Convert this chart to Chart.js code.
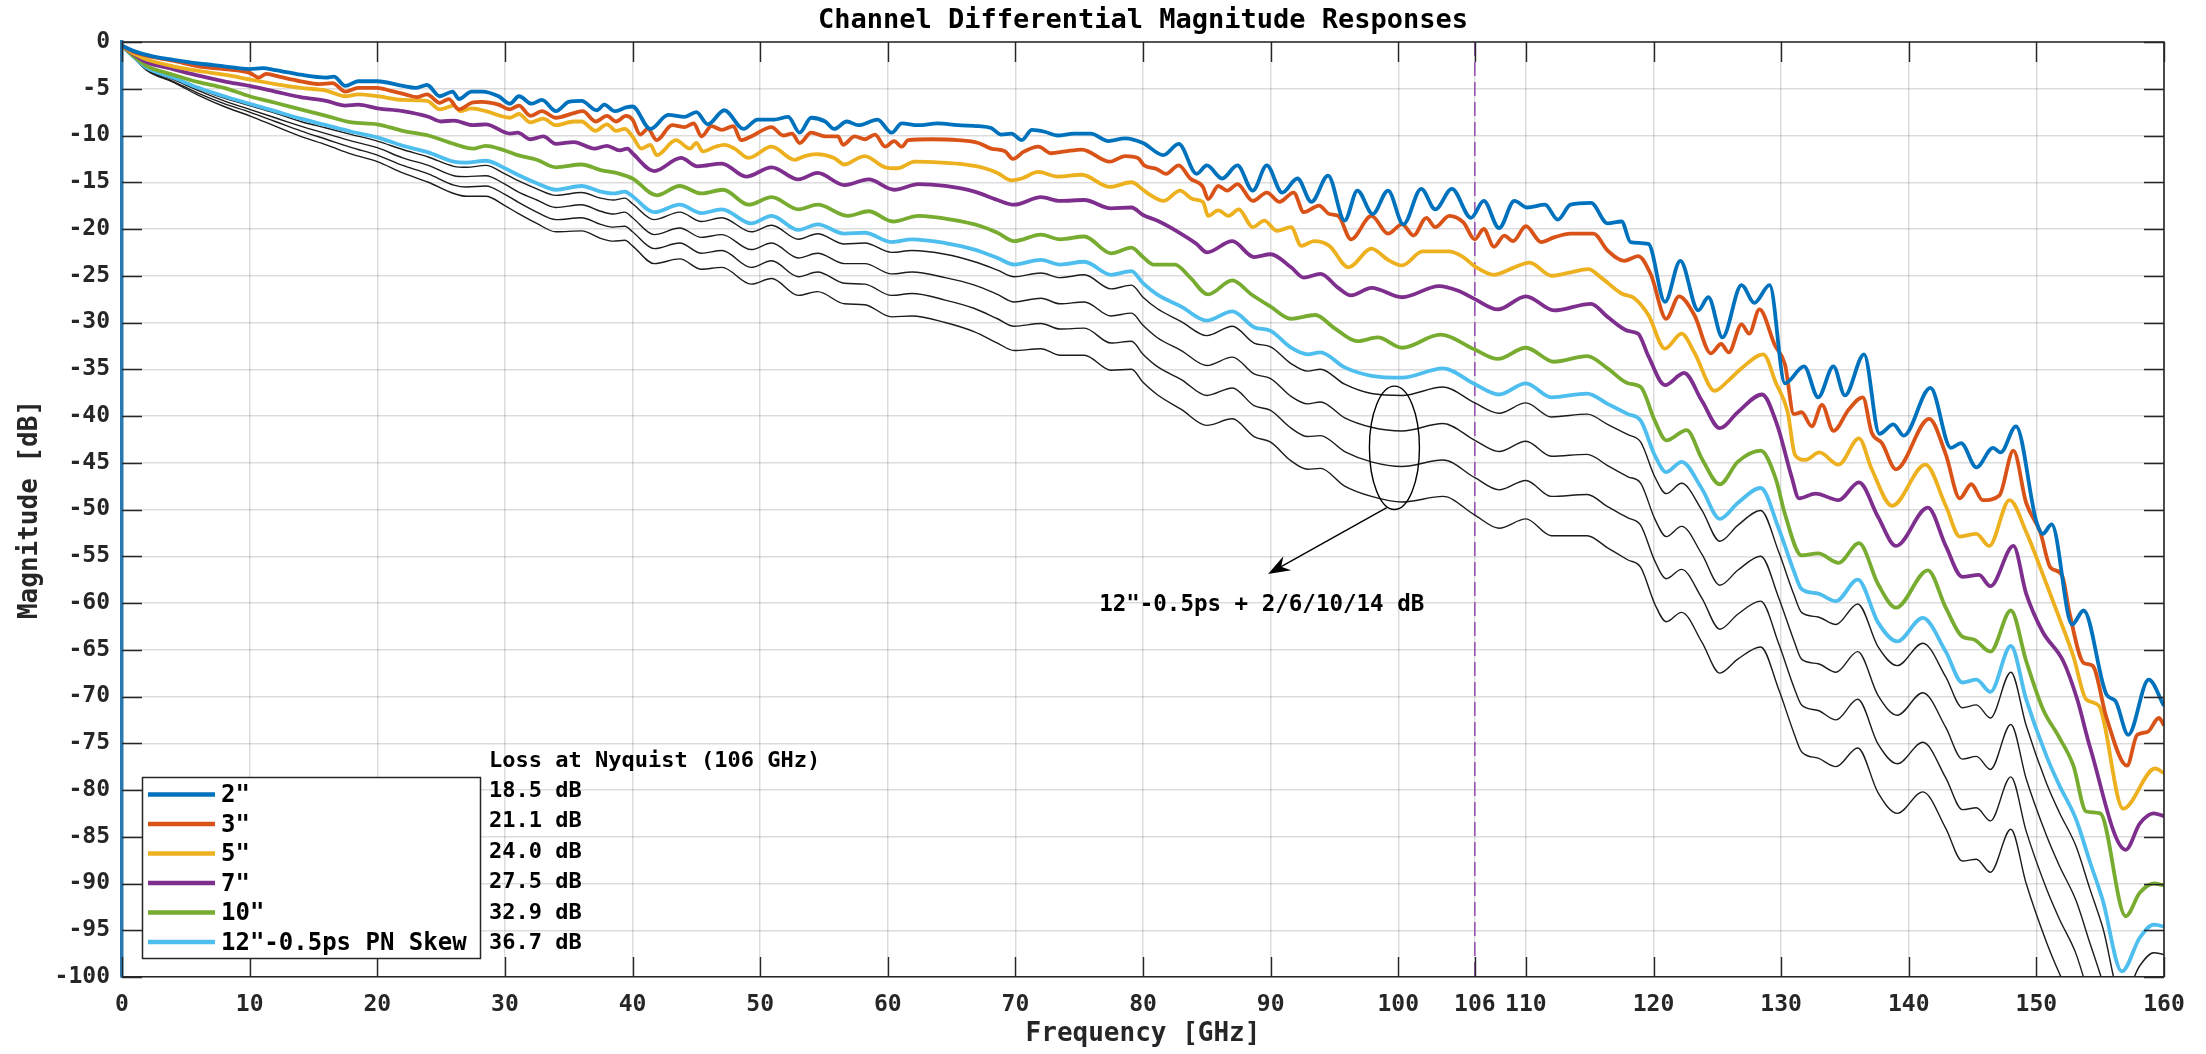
<!DOCTYPE html>
<html>
<head>
<meta charset="utf-8">
<script src="https://cdn.jsdelivr.net/npm/chart.js@4.4.1/dist/chart.umd.min.js"></script>
<style>
html,body{margin:0;padding:0;background:#ffffff;}
#wrap{width:2206px;height:1054px;position:relative;}
</style>
</head>
<body>
<div id="wrap"><canvas id="c" width="2206" height="1054"></canvas></div>
<script>
// ---------------- chart texts ----------------
const chartTitle = 'Channel Differential Magnitude Responses';
const xAxisLabel = 'Frequency [GHz]';
const yAxisLabel = 'Magnitude [dB]';
const xTickValues = [0,10,20,30,40,50,60,70,80,90,100,106,110,120,130,140,150,160];
const yTickValues = [-100,-95,-90,-85,-80,-75,-70,-65,-60,-55,-50,-45,-40,-35,-30,-25,-20,-15,-10,-5,0];
const seriesNames = ['2"', '3"', '5"', '7"', '10"', '12"-0.5ps PN Skew'];
const nyquistHeader = 'Loss at Nyquist (106 GHz)';
const nyquistLosses = ['18.5 dB', '21.1 dB', '24.0 dB', '27.5 dB', '32.9 dB', '36.7 dB'];
const nyquistFreq = 106;
const skewNote = '12"-0.5ps + 2/6/10/14 dB';

// ---------------- series: [frequency GHz, magnitude dB] ----------------
const s2in = [[0,-0.4],[1,-1.0],[2,-1.4],[3,-1.7],[4,-1.9],[6,-2.3],[8,-2.6],[10,-2.9],[11,-2.8],[12,-3.0],[14,-3.5],[16,-3.8],[16.6,-3.7],[17.5,-4.7],[18.5,-4.2],[20,-4.2],[22,-4.7],[23,-4.9],[23.9,-4.6],[24.9,-5.8],[25.9,-5.3],[26.4,-6.1],[27.4,-5.3],[28.2,-5.3],[29.5,-5.8],[30.4,-6.6],[31.1,-5.8],[32.1,-6.6],[32.9,-6.2],[34,-7.4],[35,-6.4],[36,-6.3],[37.2,-7.3],[37.8,-6.7],[38.6,-7.4],[39.5,-7.0],[40,-6.9],[41.4,-9.3],[42.8,-7.8],[44.1,-8.0],[45,-7.5],[45.9,-8.8],[47.2,-7.3],[48.7,-9.3],[49.8,-8.3],[51.1,-8.3],[52.2,-8.0],[53.1,-9.7],[54,-8.1],[55.1,-8.5],[55.8,-9.3],[56.8,-8.5],[57.7,-8.9],[59.2,-8.3],[60.3,-9.7],[61.1,-8.7],[62.4,-8.9],[63.9,-8.7],[65.5,-8.9],[67.1,-9.0],[68.1,-9.2],[68.9,-9.9],[69.7,-9.8],[70.5,-10.5],[71.3,-9.4],[72.3,-9.6],[73.3,-10.0],[74.6,-9.8],[75.9,-9.8],[77.3,-10.6],[78.6,-10.3],[80,-10.8],[81.6,-12.1],[82.8,-10.9],[84.2,-14.1],[85,-13.2],[86.2,-14.6],[87.4,-13.2],[88.6,-15.9],[89.7,-13.2],[90.9,-16.1],[92.1,-14.6],[93.2,-17.1],[94.5,-14.3],[95.8,-19.1],[96.8,-15.9],[98,-18.4],[99.2,-15.9],[100.4,-19.5],[101.8,-15.7],[102.9,-17.9],[104.2,-15.7],[105.7,-18.8],[106.7,-17.0],[107.9,-19.9],[109.1,-17.0],[110.1,-17.7],[111.5,-17.4],[112.5,-19.0],[113.5,-17.4],[115.1,-17.2],[116.4,-19.4],[117.5,-19.2],[118.2,-21.4],[119.6,-21.6],[120.9,-27.8],[122.1,-23.4],[123.5,-28.7],[124.3,-27.3],[125.4,-31.6],[126.9,-26.0],[127.9,-27.9],[129.1,-26.0],[130.3,-36.5],[131.8,-34.7],[132.9,-38.0],[134.1,-34.7],[135,-37.8],[136.5,-33.4],[137.7,-41.9],[138.8,-40.9],[139.6,-42.1],[141.7,-37.0],[143.3,-43.4],[144.1,-42.9],[145.3,-45.5],[146.6,-43.4],[147.2,-43.9],[148.4,-41.1],[150,-51.3],[150.5,-52.6],[151.2,-51.6],[152.8,-62.3],[153.7,-60.8],[155.5,-69.8],[156.2,-70.5],[157.2,-74.1],[158.8,-68.2],[160,-71.0]];

const s3in = [[0,-0.4],[1,-1.1],[2,-1.5],[4,-2.0],[6,-2.6],[8,-2.9],[10,-3.3],[10.7,-3.8],[11.3,-3.4],[12,-3.6],[14,-4.2],[15.5,-4.5],[16.5,-4.4],[17.5,-5.3],[18.5,-4.9],[20,-4.9],[21,-5.2],[22.2,-5.6],[23.1,-5.9],[23.9,-5.6],[24.9,-6.5],[25.6,-6.1],[26.4,-7.2],[27.4,-6.5],[28.2,-6.4],[29.5,-6.7],[30.4,-7.2],[31.1,-6.8],[32,-7.9],[32.9,-7.4],[34,-8.1],[35.4,-7.6],[36.1,-7.4],[37.1,-8.5],[38,-7.9],[38.7,-8.5],[39.5,-7.9],[40,-8.3],[40.6,-9.9],[41.2,-9.3],[41.9,-10.5],[43.1,-8.9],[44.1,-9.1],[44.8,-8.7],[45.4,-10.1],[46.2,-9.0],[47,-9.4],[47.9,-9.0],[48.5,-10.5],[49.3,-10.1],[50.9,-9.1],[51.8,-10.0],[52.5,-9.8],[53.1,-10.8],[54,-9.7],[55.1,-10.1],[56.1,-10.1],[56.5,-11.0],[57.4,-10.1],[58.2,-10.4],[59,-9.9],[59.8,-11.2],[60.5,-10.6],[61.1,-11.2],[61.6,-10.5],[63.4,-10.4],[65.5,-10.5],[67.1,-10.8],[68.1,-11.4],[69.2,-11.7],[69.8,-12.5],[70.7,-11.7],[71.8,-11.2],[72.8,-11.9],[73.9,-11.7],[75.2,-11.5],[77.4,-12.8],[78.6,-12.2],[79.6,-12.4],[80.1,-13.2],[81.1,-13.6],[81.8,-14.1],[82.8,-13.2],[83.7,-14.6],[84.7,-15.5],[85.1,-16.8],[85.9,-15.4],[86.6,-15.9],[87.4,-15.2],[88.6,-17.0],[89.7,-16.1],[90.7,-17.1],[91.8,-16.1],[92.6,-18.2],[93.8,-17.5],[94.6,-18.4],[95.3,-18.6],[96.3,-21.1],[97.9,-18.6],[99.2,-20.5],[100.3,-19.5],[101.2,-20.7],[102.2,-18.8],[102.9,-19.8],[104,-18.6],[105.1,-19.3],[106,-21.1],[106.7,-20.0],[107.5,-21.9],[108.3,-20.7],[109,-21.3],[110,-19.7],[111.2,-21.4],[112.2,-20.9],[113.5,-20.5],[115.3,-20.5],[116.4,-22.3],[117.7,-23.4],[118.8,-22.9],[119.8,-24.9],[121,-29.6],[122,-27.2],[123.2,-29.2],[124.5,-33.3],[125.3,-32.3],[125.9,-33.2],[126.9,-30.2],[127.5,-31.2],[128.3,-28.6],[129.5,-32.4],[130.3,-34.5],[131,-39.8],[131.6,-39.6],[132.4,-41.1],[133.2,-38.8],[134.1,-41.6],[135.3,-39.3],[136.4,-38.0],[137.1,-41.8],[137.9,-42.9],[139,-45.7],[141.6,-40.3],[142.9,-44.1],[144,-48.8],[144.9,-47.3],[145.8,-49.0],[147.1,-48.5],[148.2,-43.7],[149.2,-49.3],[150.3,-52.4],[151.1,-56.2],[152,-57.0],[152.6,-61.1],[153.7,-66.4],[154.4,-66.7],[155.5,-72.3],[157.1,-77.4],[157.9,-74.1],[158.7,-73.8],[159.6,-72.3],[160,-73.1]];

const s5in = [[0,-0.4],[1,-1.3],[2,-1.9],[4,-2.6],[6,-3.1],[8,-3.5],[10,-4.0],[12,-4.5],[14,-4.9],[16,-5.2],[17.5,-5.8],[18.5,-5.6],[20,-5.8],[22,-6.2],[23.9,-6.3],[24.9,-7.2],[26,-6.8],[26.5,-7.4],[27.4,-7.1],[28.5,-7.4],[30.4,-8.1],[31.1,-7.7],[32,-8.6],[33,-8.2],[34,-8.9],[35.4,-8.5],[36,-8.5],[37.1,-9.5],[38,-8.8],[38.7,-9.5],[39.4,-9.3],[40,-10.1],[40.7,-11.4],[41.4,-11.0],[41.9,-12.1],[43.4,-10.5],[44.5,-11.4],[45,-10.8],[45.5,-11.7],[46.5,-11.2],[47.2,-11.0],[48,-11.4],[49.1,-12.4],[50.9,-11.2],[52.7,-12.6],[53.5,-12.2],[54.4,-12.0],[55.8,-12.4],[56.6,-13.1],[57.7,-12.4],[58.2,-12.2],[59.8,-13.4],[60.8,-13.5],[62.1,-12.8],[64.2,-12.9],[66,-13.1],[67.6,-13.5],[68.6,-14.0],[69.7,-14.8],[70.5,-14.6],[71.8,-13.9],[73.3,-14.4],[75.2,-14.2],[77.4,-15.5],[79.1,-15.0],[80,-15.8],[80.5,-16.3],[81.6,-17.0],[82.9,-15.9],[83.9,-16.8],[84.7,-17.1],[85.1,-18.6],[85.9,-18.0],[86.7,-18.6],[87.5,-17.9],[88.6,-19.8],[89.5,-19.1],[90.5,-20.2],[91.6,-19.8],[92.4,-21.8],[93.4,-21.3],[94.6,-21.8],[96.1,-24.1],[97.9,-22.1],[99.2,-23.3],[100.3,-23.9],[101.9,-22.4],[103.9,-22.4],[105.1,-23.0],[106,-24.0],[107.5,-24.9],[109.1,-24.1],[110.3,-23.6],[112,-25.0],[113.3,-24.7],[114.9,-24.3],[115.9,-25.2],[117.5,-26.9],[118.5,-27.4],[119.6,-29.2],[120.9,-32.8],[122.2,-31.2],[123.2,-33.2],[124.8,-37.3],[125.8,-36.3],[126.9,-34.9],[128.6,-33.4],[129.6,-36.5],[130.5,-39.5],[131.1,-44.2],[131.9,-44.7],[133,-43.9],[134.5,-45.2],[136.1,-42.4],[137.1,-45.7],[138.7,-49.6],[141.3,-45.2],[142.9,-49.6],[144,-52.9],[145.3,-52.6],[146.3,-53.9],[147.9,-49.0],[149.2,-52.4],[150.8,-58.0],[151.8,-61.6],[152.9,-65.7],[153.9,-70.3],[154.9,-71.0],[156.8,-82.0],[159.3,-77.7],[160,-78.2]];

const s7in = [[0,-0.4],[1,-1.4],[2,-2.2],[4,-2.9],[6,-3.6],[8,-4.2],[10,-4.7],[12,-5.3],[14,-5.9],[16,-6.3],[17.5,-6.8],[18.5,-6.7],[20,-7.1],[22,-7.4],[24,-8.0],[25,-8.5],[26,-8.4],[27.5,-8.9],[28.5,-8.8],[30.4,-9.8],[31,-9.7],[32,-10.4],[33,-10.1],[34,-10.9],[35.4,-10.7],[37,-11.4],[38,-11.1],[39,-11.6],[39.6,-11.4],[40,-11.9],[41.7,-13.8],[43.8,-12.4],[45.1,-13.3],[47,-13.0],[48.9,-14.4],[50.9,-13.4],[53,-14.7],[54.5,-14.0],[56.6,-15.3],[58.5,-14.7],[60.5,-15.8],[62.4,-15.2],[64.5,-15.4],[66.8,-16.0],[68.6,-16.9],[69.9,-17.4],[72,-16.6],[73.5,-17.0],[75.4,-16.9],[77.5,-17.8],[79.1,-17.7],[80,-18.5],[81.1,-19.1],[82.6,-20.2],[84.2,-21.6],[85,-22.5],[87,-21.3],[88.7,-23.0],[90,-22.7],[91.6,-24.1],[92.6,-25.2],[93.9,-24.8],[95.3,-26.3],[96.3,-27.1],[97.9,-26.3],[100.3,-27.3],[103.2,-26.1],[104.7,-26.6],[106,-27.5],[107.8,-28.6],[110,-27.2],[112.2,-28.7],[115.1,-28.0],[116.4,-29.4],[118,-30.9],[118.8,-31.2],[119.6,-33.6],[120.9,-36.7],[122.4,-35.4],[123.8,-38.4],[125.2,-41.3],[126.6,-39.6],[128.5,-37.7],[129.7,-41.0],[130.8,-46.4],[131.4,-48.8],[132.7,-48.3],[134.5,-49.0],[136.1,-47.1],[137.6,-50.8],[139,-53.9],[141.5,-49.8],[142.9,-53.9],[144.2,-57.2],[145.5,-57.0],[146.4,-58.2],[148.2,-53.9],[149.2,-59.0],[150.5,-63.1],[152.1,-66.2],[153.2,-70.3],[154.2,-75.4],[157,-86.4],[158.1,-83.6],[159.2,-82.5],[160,-82.8]];

const s10in = [[0,-0.4],[1,-1.6],[2,-2.6],[4,-3.5],[6,-4.3],[8,-4.9],[10,-5.8],[12,-6.5],[14,-7.2],[16,-7.9],[18,-8.6],[20,-8.8],[22,-9.5],[24,-10.0],[26,-10.9],[27.5,-11.4],[28.5,-11.1],[30,-11.6],[31,-12.1],[32.5,-12.6],[34,-13.4],[36,-13.1],[37.5,-13.7],[39,-14.1],[40,-14.6],[41.9,-16.4],[43.7,-15.4],[45.4,-16.2],[47.1,-15.8],[49.1,-17.4],[50.9,-16.6],[53,-17.9],[54.5,-17.4],[56.9,-18.6],[58.5,-18.1],[60.4,-19.2],[62.4,-18.6],[65,-19.0],[67.3,-19.7],[68.6,-20.4],[69.9,-21.3],[72,-20.6],[73.5,-21.1],[75.4,-20.8],[77.5,-22.6],[79.1,-22.0],[80,-23.0],[80.8,-23.8],[82.5,-23.8],[83.7,-25.2],[85.1,-27.0],[87,-25.5],[88.5,-27.0],[90,-28.3],[91.6,-29.6],[93.5,-29.2],[95,-30.6],[96.8,-32.0],[98.4,-31.6],[100.3,-32.7],[103.3,-31.3],[106,-32.9],[107.8,-33.9],[110,-32.7],[112.2,-34.2],[114.8,-33.6],[116.4,-34.9],[118,-36.5],[119,-36.9],[120.1,-40.5],[121,-42.6],[122.6,-41.5],[123.8,-44.6],[125.2,-47.3],[126.6,-44.9],[128.4,-43.7],[129.6,-46.8],[130.3,-50.5],[131.6,-54.9],[132.9,-54.7],[134.5,-55.7],[136.1,-53.6],[137.6,-58.0],[139,-60.5],[141.5,-56.5],[142.9,-60.5],[144.2,-63.6],[145.1,-63.9],[146.4,-65.2],[148,-60.8],[149.2,-66.2],[150.5,-71.3],[151.8,-74.4],[152.9,-77.4],[153.9,-82.3],[155,-82.5],[157,-93.5],[158.1,-91.0],[159.2,-90.0],[160,-90.2]];

const s12in = [[0,-0.4],[1,-1.7],[2,-2.8],[4,-3.8],[6,-4.9],[8,-5.8],[10,-6.6],[12,-7.4],[14,-8.2],[16,-8.9],[18,-9.6],[20,-10.2],[22,-11.1],[24,-11.8],[26,-12.8],[27,-12.9],[28.5,-12.7],[30,-13.5],[31,-14.2],[32.5,-15.1],[34,-15.8],[36,-15.4],[37.5,-16.0],[38.5,-16.2],[39.4,-16.0],[40,-16.5],[41.7,-18.2],[43.7,-17.4],[45.4,-18.3],[47,-17.9],[49.3,-19.4],[50.9,-18.6],[53,-20.1],[54.5,-19.5],[56.6,-20.5],[58.2,-20.4],[60.3,-21.4],[61.9,-21.1],[64.5,-21.5],[66.8,-22.2],[68.6,-23.1],[69.9,-23.8],[72,-23.3],[73.5,-23.8],[75.4,-23.5],[77.5,-24.9],[79.1,-24.5],[80,-25.8],[81.1,-27.0],[83,-28.3],[85,-29.8],[87,-28.8],[88.7,-30.5],[90,-30.9],[91.6,-32.7],[92.9,-33.4],[93.9,-33.2],[95.8,-34.8],[97.9,-35.7],[100.3,-35.9],[103.5,-34.9],[106,-36.6],[107.9,-37.7],[110,-36.5],[112,-38.0],[114.8,-37.6],[116.4,-38.7],[118,-39.8],[119,-40.5],[120.1,-44.2],[121,-46.0],[122.2,-44.9],[123.8,-47.8],[125.2,-51.0],[126.6,-49.3],[128.4,-47.7],[129.8,-52.0],[131,-56.6],[131.6,-58.5],[132.9,-59.0],[134.3,-59.8],[136,-57.5],[137.6,-62.1],[139.1,-64.1],[141.1,-61.6],[142.9,-65.2],[144.2,-68.5],[145.3,-68.2],[146.4,-69.5],[148,-64.6],[149.2,-70.3],[150.8,-76.4],[151.8,-79.5],[153.1,-83.1],[154.2,-87.7],[155.2,-91.8],[156.7,-99.4],[158.1,-95.8],[159.2,-94.4],[160,-94.6]];

const s12inPlus2 = [[0,-0.4],[1,-1.7],[2,-2.8],[4,-3.9],[6,-5.0],[8,-6.0],[10,-6.8],[12,-7.6],[14,-8.5],[16,-9.2],[18,-9.9],[20,-10.6],[22,-11.5],[24,-12.3],[26,-13.3],[27,-13.4],[28.5,-13.2],[30,-14.1],[31,-14.8],[32.5,-15.7],[34,-16.4],[36,-16.1],[37.5,-16.7],[38.5,-16.9],[39.4,-16.7],[40,-17.3],[41.7,-19.0],[43.7,-18.2],[45.4,-19.2],[47,-18.8],[49.3,-20.3],[50.9,-19.6],[53,-21.1],[54.5,-20.5],[56.6,-21.6],[58.2,-21.5],[60.3,-22.5],[61.9,-22.3],[64.5,-22.7],[66.8,-23.5],[68.6,-24.4],[69.9,-25.1],[72,-24.7],[73.5,-25.2],[75.4,-24.9],[77.5,-26.4],[79.1,-26.0],[80,-27.3],[81.1,-28.5],[83,-29.9],[85,-31.4],[87,-30.4],[88.7,-32.2],[90,-32.6],[91.6,-34.4],[92.9,-35.2],[93.9,-35.0],[95.8,-36.6],[97.9,-37.6],[100.3,-37.8],[103.5,-36.9],[106,-38.6],[107.9,-39.7],[110,-38.6],[112,-40.1],[114.8,-39.8],[116.4,-40.9],[118,-42.0],[119,-42.8],[120.1,-46.5],[121,-48.3],[122.2,-47.2],[123.8,-50.1],[125.2,-53.4],[126.6,-51.7],[128.4,-50.1],[129.8,-54.5],[131,-59.1],[131.6,-61.0],[132.9,-61.5],[134.3,-62.3],[136,-60.1],[137.6,-64.7],[139.1,-66.7],[141.1,-64.3],[142.9,-67.9],[144.2,-71.2],[145.3,-70.9],[146.4,-72.3],[148,-67.4],[149.2,-73.1],[150.8,-79.3],[151.8,-82.4],[153.1,-86.0],[154.2,-90.6],[155.2,-94.7],[156.7,-102.4],[158.1,-98.8],[159.2,-97.4],[160,-97.6]];

const s12inPlus6 = [[0,-0.4],[1,-1.8],[2,-2.9],[4,-4.0],[6,-5.2],[8,-6.3],[10,-7.2],[12,-8.1],[14,-9.0],[16,-9.8],[18,-10.6],[20,-11.3],[22,-12.4],[24,-13.2],[26,-14.3],[27,-14.4],[28.5,-14.3],[30,-15.2],[31,-16.0],[32.5,-16.9],[34,-17.7],[36,-17.4],[37.5,-18.1],[38.5,-18.4],[39.4,-18.2],[40,-18.8],[41.7,-20.6],[43.7,-19.9],[45.4,-20.9],[47,-20.6],[49.3,-22.2],[50.9,-21.5],[53,-23.1],[54.5,-22.6],[56.6,-23.7],[58.2,-23.7],[60.3,-24.8],[61.9,-24.6],[64.5,-25.2],[66.8,-26.0],[68.6,-27.0],[69.9,-27.8],[72,-27.4],[73.5,-28.0],[75.4,-27.8],[77.5,-29.3],[79.1,-29.0],[80,-30.3],[81.1,-31.6],[83,-33.0],[85,-34.6],[87,-33.7],[88.7,-35.5],[90,-36.0],[91.6,-37.9],[92.9,-38.7],[93.9,-38.5],[95.8,-40.2],[97.9,-41.2],[100.3,-41.6],[103.5,-40.8],[106,-42.6],[107.9,-43.8],[110,-42.7],[112,-44.3],[114.8,-44.1],[116.4,-45.3],[118,-46.5],[119,-47.2],[120.1,-51.0],[121,-52.9],[122.2,-51.8],[123.8,-54.8],[125.2,-58.1],[126.6,-56.5],[128.4,-55.0],[129.8,-59.4],[131,-64.0],[131.6,-66.0],[132.9,-66.5],[134.3,-67.4],[136,-65.2],[137.6,-69.9],[139.1,-72.0],[141.1,-69.6],[142.9,-73.3],[144.2,-76.7],[145.3,-76.4],[146.4,-77.8],[148,-73.0],[149.2,-78.8],[150.8,-84.9],[151.8,-88.1],[153.1,-91.8],[154.2,-96.4],[155.2,-100.6],[156.7,-108.3],[158.1,-104.8],[159.2,-103.4],[160,-103.7]];

const s12inPlus10 = [[0,-0.4],[1,-1.8],[2,-3.0],[4,-4.2],[6,-5.5],[8,-6.6],[10,-7.5],[12,-8.5],[14,-9.5],[16,-10.4],[18,-11.3],[20,-12.1],[22,-13.2],[24,-14.1],[26,-15.3],[27,-15.5],[28.5,-15.4],[30,-16.3],[31,-17.1],[32.5,-18.2],[34,-19.0],[36,-18.8],[37.5,-19.5],[38.5,-19.8],[39.4,-19.7],[40,-20.3],[41.7,-22.1],[43.7,-21.5],[45.4,-22.6],[47,-22.3],[49.3,-24.1],[50.9,-23.4],[53,-25.1],[54.5,-24.6],[56.6,-25.8],[58.2,-25.9],[60.3,-27.1],[61.9,-26.9],[64.5,-27.6],[66.8,-28.5],[68.6,-29.6],[69.9,-30.4],[72,-30.1],[73.5,-30.7],[75.4,-30.6],[77.5,-32.2],[79.1,-32.0],[80,-33.4],[81.1,-34.7],[83,-36.1],[85,-37.8],[87,-37.0],[88.7,-38.9],[90,-39.4],[91.6,-41.3],[92.9,-42.2],[93.9,-42.1],[95.8,-43.8],[97.9,-44.9],[100.3,-45.4],[103.5,-44.7],[106,-46.6],[107.9,-47.9],[110,-46.9],[112,-48.6],[114.8,-48.4],[116.4,-49.7],[118,-50.9],[119,-51.7],[120.1,-55.5],[121,-57.4],[122.2,-56.4],[123.8,-59.5],[125.2,-62.8],[126.6,-61.2],[128.4,-59.8],[129.8,-64.3],[131,-69.0],[131.6,-70.9],[132.9,-71.5],[134.3,-72.5],[136,-70.3],[137.6,-75.1],[139.1,-77.2],[141.1,-74.9],[142.9,-78.7],[144.2,-82.1],[145.3,-81.9],[146.4,-83.3],[148,-78.6],[149.2,-84.4],[150.8,-90.6],[151.8,-93.8],[153.1,-97.5],[154.2,-102.3],[155.2,-106.4],[156.7,-114.2],[158.1,-110.7],[159.2,-109.4],[160,-109.7]];

const s12inPlus14 = [[0,-0.4],[1,-1.8],[2,-3.1],[4,-4.3],[6,-5.7],[8,-6.9],[10,-7.9],[12,-9.0],[14,-10.1],[16,-11.0],[18,-12.0],[20,-12.8],[22,-14.0],[24,-15.0],[26,-16.2],[27,-16.5],[28.5,-16.5],[30,-17.5],[31,-18.3],[32.5,-19.4],[34,-20.3],[36,-20.2],[37.5,-21.0],[38.5,-21.3],[39.4,-21.2],[40,-21.8],[41.7,-23.7],[43.7,-23.2],[45.4,-24.3],[47,-24.1],[49.3,-25.9],[50.9,-25.3],[53,-27.1],[54.5,-26.7],[56.6,-28.0],[58.2,-28.1],[60.3,-29.4],[61.9,-29.3],[64.5,-30.0],[66.8,-31.0],[68.6,-32.2],[69.9,-33.0],[72,-32.8],[73.5,-33.5],[75.4,-33.5],[77.5,-35.1],[79.1,-35.0],[80,-36.4],[81.1,-37.7],[83,-39.3],[85,-41.0],[87,-40.3],[88.7,-42.2],[90,-42.8],[91.6,-44.8],[92.9,-45.7],[93.9,-45.6],[95.8,-47.5],[97.9,-48.6],[100.3,-49.2],[103.5,-48.6],[106,-50.6],[107.9,-52.0],[110,-51.0],[112,-52.8],[114.8,-52.8],[116.4,-54.1],[118,-55.4],[119,-56.2],[120.1,-60.1],[121,-62.0],[122.2,-61.0],[123.8,-64.2],[125.2,-67.5],[126.6,-66.0],[128.4,-64.7],[129.8,-69.2],[131,-73.9],[131.6,-75.9],[132.9,-76.6],[134.3,-77.5],[136,-75.5],[137.6,-80.3],[139.1,-82.5],[141.1,-80.2],[142.9,-84.1],[144.2,-87.6],[145.3,-87.4],[146.4,-88.8],[148,-84.2],[149.2,-90.0],[150.8,-96.3],[151.8,-99.6],[153.1,-103.3],[154.2,-108.1],[155.2,-112.3],[156.7,-120.1],[158.1,-116.7],[159.2,-115.4],[160,-115.7]];

// ---------------- styles ----------------
const FONT = '"DejaVu Sans Mono", "Liberation Mono", monospace';
const seriesColors = ['#0072BD', '#D95319', '#EDB120', '#7E2F8E', '#77AC30', '#4DBEEE'];
const blackColor = '#1c1c1c';
const nyquistColor = '#9b55b4';
const axisColor = '#262626';

const toXY = arr => arr.map(p => ({x: p[0], y: p[1]}));
const colorSeries = [s2in, s3in, s5in, s7in, s10in, s12in];
const blackSeries = [s12inPlus2, s12inPlus6, s12inPlus10, s12inPlus14];

const datasets = [];
colorSeries.forEach((s, i) => datasets.push({
  label: seriesNames[i], data: toXY(s), borderColor: seriesColors[i],
  borderWidth: 3.8, pointRadius: 0, cubicInterpolationMode: 'monotone', fill: false, clip: 0
}));
blackSeries.forEach((s, i) => datasets.push({
  label: skewNote + ' #' + (i + 1), data: toXY(s), borderColor: blackColor,
  borderWidth: 1.4, pointRadius: 0, cubicInterpolationMode: 'monotone', fill: false, clip: 0
}));
datasets.push({
  label: 'Nyquist', data: [{x: nyquistFreq, y: yTickValues[yTickValues.length - 1]}, {x: nyquistFreq, y: yTickValues[0]}],
  borderColor: nyquistColor, borderWidth: 1.6, borderDash: [14, 6], pointRadius: 0, fill: false, clip: 0
});

// annotation placement (data units)
const noteEllipse = {cx: 99.7, cy: -43.4, rx: 1.96, ry: 6.6};
const noteArrow = {x0: 99.1, y0: -49.8, x1: 89.8, y1: -56.9};
const noteText = {x: 89.3, y: -60.2};

const decor = {
  id: 'decor',
  afterDatasetsDraw(chart) {
    const ctx = chart.ctx, a = chart.chartArea, xs = chart.scales.x, ys = chart.scales.y;
    ctx.save();
    // top & right box lines
    ctx.strokeStyle = axisColor; ctx.lineWidth = 1.6;
    ctx.beginPath();
    ctx.moveTo(a.left, a.top); ctx.lineTo(a.right, a.top); ctx.lineTo(a.right, a.bottom);
    ctx.stroke();
    // inward tick marks on all four sides
    const TL = 20;
    ctx.beginPath();
    xs.ticks.forEach(t => {
      const px = Math.round(xs.getPixelForValue(t.value)) + 0.5;
      ctx.moveTo(px, a.bottom); ctx.lineTo(px, a.bottom - TL);
      ctx.moveTo(px, a.top); ctx.lineTo(px, a.top + TL);
    });
    ys.ticks.forEach(t => {
      const py = Math.round(ys.getPixelForValue(t.value)) + 0.5;
      ctx.moveTo(a.left, py); ctx.lineTo(a.left + TL, py);
      ctx.moveTo(a.right, py); ctx.lineTo(a.right - TL, py);
    });
    ctx.lineWidth = 1.4; ctx.stroke();

    // ellipse + arrow annotation
    const ecx = xs.getPixelForValue(noteEllipse.cx), ecy = ys.getPixelForValue(noteEllipse.cy);
    const erx = Math.abs(xs.getPixelForValue(noteEllipse.cx + noteEllipse.rx) - ecx);
    const ery = Math.abs(ys.getPixelForValue(noteEllipse.cy + noteEllipse.ry) - ecy);
    ctx.strokeStyle = '#000'; ctx.lineWidth = 1.4;
    ctx.beginPath(); ctx.ellipse(ecx, ecy, erx, ery, 0, 0, Math.PI * 2); ctx.stroke();
    const ax0 = xs.getPixelForValue(noteArrow.x0), ay0 = ys.getPixelForValue(noteArrow.y0);
    const ax1 = xs.getPixelForValue(noteArrow.x1), ay1 = ys.getPixelForValue(noteArrow.y1);
    const ang = Math.atan2(ay1 - ay0, ax1 - ax0);
    const hl = 22, hw = 8, notch = 15;
    const bx = ax1 - Math.cos(ang) * notch, by = ay1 - Math.sin(ang) * notch;
    ctx.beginPath(); ctx.moveTo(ax0, ay0); ctx.lineTo(bx, by); ctx.stroke();
    ctx.fillStyle = '#000';
    ctx.beginPath();
    ctx.moveTo(ax1, ay1);
    ctx.lineTo(ax1 - Math.cos(ang) * hl - Math.sin(ang) * hw, ay1 - Math.sin(ang) * hl + Math.cos(ang) * hw);
    ctx.lineTo(bx, by);
    ctx.lineTo(ax1 - Math.cos(ang) * hl + Math.sin(ang) * hw, ay1 - Math.sin(ang) * hl - Math.cos(ang) * hw);
    ctx.closePath(); ctx.fill();
    ctx.font = 'bold 22.5px ' + FONT; ctx.textAlign = 'center'; ctx.textBaseline = 'middle';
    ctx.fillText(skewNote, xs.getPixelForValue(noteText.x), ys.getPixelForValue(noteText.y));

    // legend box (bottom-left inside axes)
    const lx = a.left + 20, ly = a.bottom - 200, lw = 338, lh = 181;
    ctx.fillStyle = '#fff'; ctx.fillRect(lx, ly, lw, lh);
    ctx.strokeStyle = axisColor; ctx.lineWidth = 1.5; ctx.strokeRect(lx + 0.5, ly + 0.5, lw, lh);
    ctx.font = 'bold 24px ' + FONT; ctx.textAlign = 'left'; ctx.textBaseline = 'middle';
    seriesNames.forEach((name, i) => {
      const yy = ly + 17.5 + i * 29.5;
      ctx.strokeStyle = seriesColors[i]; ctx.lineWidth = 4.5;
      ctx.beginPath(); ctx.moveTo(lx + 6, yy); ctx.lineTo(lx + 73, yy); ctx.stroke();
      ctx.fillStyle = '#000'; ctx.fillText(name, lx + 79, yy + 1.5);
    });
    // loss at Nyquist column
    ctx.font = 'bold 22px ' + FONT; ctx.fillStyle = '#000';
    ctx.fillText(nyquistHeader, lx + 347, ly - 16);
    nyquistLosses.forEach((v, i) => ctx.fillText(v, lx + 347, ly + 14 + i * 30.5));

    // title
    ctx.font = 'bold 27px ' + FONT; ctx.textAlign = 'center'; ctx.textBaseline = 'middle';
    ctx.fillStyle = '#000';
    ctx.fillText(chartTitle, (a.left + a.right) / 2, 21);
    ctx.restore();
  }
};

const tickFont = {family: FONT, size: 23, weight: 'bold'};
new Chart(document.getElementById('c'), {
  type: 'line',
  data: {datasets},
  options: {
    responsive: false, devicePixelRatio: 1, animation: false, events: [],
    layout: {padding: {top: 42, right: 42, bottom: 0, left: 0}},
    plugins: {legend: {display: false}, tooltip: {enabled: false}, title: {display: false}},
    scales: {
      x: {
        type: 'linear', min: 0, max: 160,
        afterBuildTicks: s => { s.ticks = xTickValues.map(v => ({value: v})); },
        afterFit: s => { s.height = 77; },
        ticks: {autoSkip: false, maxRotation: 0, minRotation: 0, padding: 14, color: axisColor, font: tickFont, callback: v => String(v)},
        grid: {color: 'rgba(38,38,38,0.16)', lineWidth: 1.5, drawTicks: false},
        border: {color: axisColor, width: 1.6},
        title: {display: true, text: xAxisLabel, color: axisColor, font: {family: FONT, size: 26, weight: 'bold'}, padding: {top: 0, bottom: 4}}
      },
      y: {
        type: 'linear', min: -100, max: 0,
        afterBuildTicks: s => { s.ticks = yTickValues.map(v => ({value: v})); },
        afterFit: s => { s.width = 122; },
        ticks: {padding: 12, color: axisColor, font: tickFont, callback: v => String(v)},
        grid: {color: 'rgba(38,38,38,0.16)', lineWidth: 1.5, drawTicks: false},
        border: {color: '#2a78b0', width: 3.5},
        title: {display: true, text: yAxisLabel, color: axisColor, font: {family: FONT, size: 26, weight: 'bold'}, padding: {top: 15, bottom: 0}}
      }
    }
  },
  plugins: [decor]
});
</script>
</body>
</html>
